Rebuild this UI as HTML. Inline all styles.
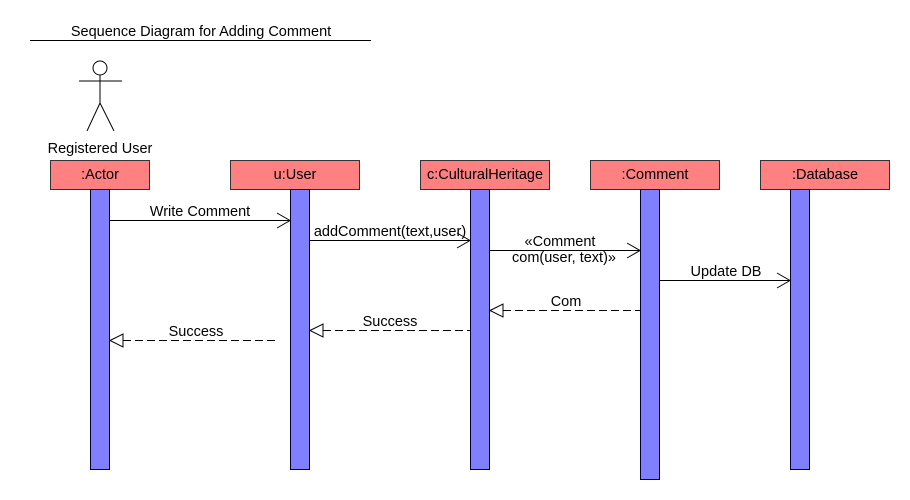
<!DOCTYPE html>
<html><head><meta charset="utf-8"><style>
html,body{margin:0;padding:0;background:#fff;width:910px;height:500px;overflow:hidden}
svg{display:block}
text{font-family:"Liberation Sans",Arial,sans-serif;font-size:14.5px;fill:#000}
</style></head><body>
<svg width="910" height="500" viewBox="0 0 910 500" xmlns="http://www.w3.org/2000/svg">
<rect width="910" height="500" fill="#fff"/>
<text x="201" y="36" text-anchor="middle">Sequence Diagram for Adding Comment</text>
<line x1="30" y1="40.5" x2="371" y2="40.5" stroke="#000"/>
<g stroke="#000" fill="none">
<circle cx="100" cy="68" r="7" fill="#fff"/>
<line x1="100" y1="75" x2="100" y2="103"/>
<line x1="79" y1="81" x2="122" y2="81"/>
<line x1="100" y1="103" x2="87" y2="131"/>
<line x1="100" y1="103" x2="114" y2="131"/>
</g>
<text x="100" y="153" text-anchor="middle">Registered User</text>
<g fill="#ff8080" stroke="#333">
<rect x="50.5" y="160.5" width="99" height="29"/>
<rect x="230.5" y="160.5" width="129" height="29"/>
<rect x="420.5" y="160.5" width="129" height="29"/>
<rect x="590.5" y="160.5" width="129" height="29"/>
<rect x="760.5" y="160.5" width="129" height="29"/>
</g>
<g text-anchor="middle">
<text x="100" y="179">:Actor</text>
<text x="295" y="179">u:User</text>
<text x="485" y="179">c:CulturalHeritage</text>
<text x="655" y="179">:Comment</text>
<text x="825" y="179">:Database</text>
</g>
<g fill="#8080ff" stroke="#000033">
<rect x="90.5" y="189.5" width="19" height="280"/>
<rect x="290.5" y="189.5" width="19" height="280"/>
<rect x="470.5" y="189.5" width="19" height="280"/>
<rect x="640.5" y="189.5" width="19" height="290"/>
<rect x="790.5" y="189.5" width="19" height="280"/>
</g>
<g stroke="#000" fill="none">
<line x1="109" y1="220.5" x2="290" y2="220.5"/><polyline points="277,213 290,220.5 277,228"/>
<line x1="309" y1="240.5" x2="470" y2="240.5"/><polyline points="457,233 470,240.5 457,248"/>
<line x1="489" y1="250.5" x2="640" y2="250.5"/><polyline points="627,243 640,250.5 627,258"/>
<line x1="659" y1="280.5" x2="790" y2="280.5"/><polyline points="777,273 790,280.5 777,288"/>
<line x1="503" y1="310.5" x2="640" y2="310.5" stroke-dasharray="8,4"/><polygon points="490,310.5 503,304 503,317" fill="#fff"/>
<line x1="323" y1="330.5" x2="470" y2="330.5" stroke-dasharray="8,4"/><polygon points="310,330.5 323,324 323,337" fill="#fff"/>
<line x1="123" y1="340.5" x2="275" y2="340.5" stroke-dasharray="8,4"/><polygon points="110,340.5 123,334 123,347" fill="#fff"/>
</g>
<g text-anchor="middle">
<text x="200" y="216">Write Comment</text>
<text x="390" y="236">addComment(text,user)</text>
<text x="560" y="246">«Comment</text>
<text x="564" y="262">com(user, text)»</text>
<text x="726" y="276">Update DB</text>
<text x="566" y="306">Com</text>
<text x="390" y="326">Success</text>
<text x="196" y="336">Success</text>
</g>
</svg>
</body></html>
